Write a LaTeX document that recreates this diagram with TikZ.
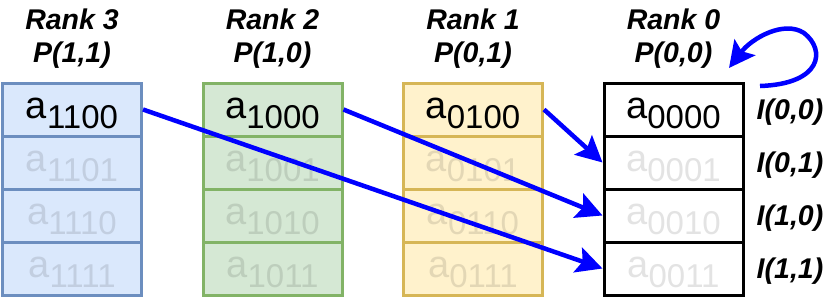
\documentclass[tikz,border=0pt]{standalone}
\usepackage{fontspec}
\setmainfont{Liberation Sans}
\usetikzlibrary{arrows.meta}

\definecolor{blueFill}{HTML}{DAE8FC}
\definecolor{blueLine}{HTML}{6C8EBF}
\definecolor{greenFill}{HTML}{D5E8D4}
\definecolor{greenLine}{HTML}{82B366}
\definecolor{yellowFill}{HTML}{FFF2CC}
\definecolor{yellowLine}{HTML}{D6B656}
\definecolor{moveBlue}{HTML}{0000FF}

\tikzset{
    cell/.style={draw, line width=3pt, minimum width=139pt, minimum height=53pt,
        inner sep=0pt, text height=20pt, text depth=2pt},
    lbl/.style={font=\fontsize{28.5}{33}\selectfont\bfseries\itshape, align=center},
    move/.style={moveBlue, line width=4.5pt, -{Stealth[length=26pt, width=26pt, inset=5pt]}},
}
\newcommand{\elem}[1]{{\fontsize{38}{38}\selectfont a}\raisebox{-10pt}{\fontsize{33}{33}\selectfont #1}}

\begin{document}
\begin{tikzpicture}[x=1pt, y=-1pt]
    \useasboundingbox (0,0) rectangle (830,306);
    % Rangai: stulpeliai su keturiomis reiksmemis
    \foreach \r/\x/\fc/\dc/\pp/\ids in {
        3/72/blueFill/blueLine/{1,1}/{1100,1101,1110,1111},
        2/272.5/greenFill/greenLine/{1,0}/{1000,1001,1010,1011},
        1/473/yellowFill/yellowLine/{0,1}/{0100,0101,0110,0111},
        0/673.5/white/black/{0,0}/{0000,0001,0010,0011}} {
        \node[lbl] (r\r) at (\x,39) {Rank \r\\P(\pp)};
        \foreach \id [count=\j] in \ids {
            \pgfmathsetmacro\op{\j==1 ? 1 : 0.11}
            \node[cell, fill=\fc, draw=\dc, text opacity=\op] (c\r-\j)
                at (\x,{83+53*(\j-0.5)}) {\elem{\id}};
        }
    }
    % Indeksai prie rango 0
    \foreach \ij [count=\j] in {{0,0},{0,1},{1,0},{1,1}} {
        \node[lbl] (i\j) at (790,{112+53*(\j-1)}) {I(\ij)};
    }
    % Siuntimai
    \draw[move] (c3-1.east) -- (c0-4.west);
    \draw[move] (c2-1.east) -- (c0-3.west);
    \draw[move] (c1-1.east) -- (c0-2.west);
    \coordinate (loopStart) at (760,86);
    \coordinate (loopEnd) at (729,68);
    \draw[move] (loopStart) .. controls (822,84) and (826,50) .. (804,33)
        .. controls (784,20) and (752,38) .. (loopEnd);
\end{tikzpicture}
\end{document}
